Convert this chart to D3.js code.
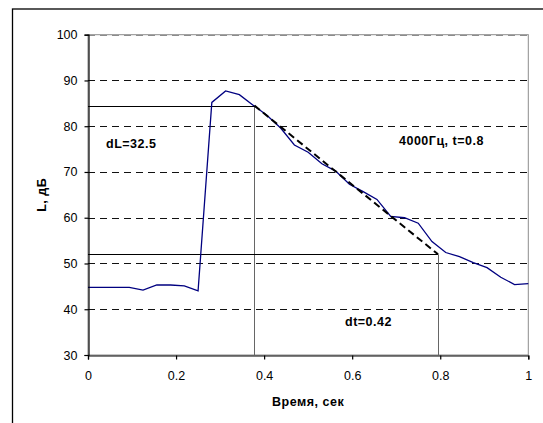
<!DOCTYPE html>
<html>
<head>
<meta charset="utf-8">
<script src="https://cdn.jsdelivr.net/npm/d3@7"></script>
<style>
  body { margin: 0; background: #fff; }
  text { font-family: "Liberation Sans", Arial, sans-serif; }
</style>
</head>
<body>
<svg id="plotarea"></svg>
<script>
// time, sec (step 1/32) and level, dB
var times = d3.range(0, 33).map(function (k) { return k / 32; });
var levels = [44.8, 44.8, 44.8, 44.8, 44.2, 45.3, 45.3, 45.1, 44.0, 85.2,
    87.7, 86.9, 84.6, 82.4, 79.6, 75.9, 74.3, 71.8, 70.2, 67.3,
    65.7, 64.0, 60.3, 60.0, 58.8, 54.8, 52.4, 51.5, 50.2, 49.1,
    47.0, 45.4, 45.6];

// decay fit: start and end points
var fitT = [0.378, 0.795];
var fitL = [84.5, 52.0];

var xTicks = [0, 0.2, 0.4, 0.6, 0.8, 1];
var yTicks = [30, 40, 50, 60, 70, 80, 90, 100];

var width = 543, height = 423;
var margin = {top: 34.7, right: 14.7, bottom: 68, left: 88};

var svg = d3.select("#plotarea")
    .attr("width", width)
    .attr("height", height);

// outer chart frame (cut off at right and bottom)
svg.append("rect")
    .attr("x", 12.5).attr("y", 9)
    .attr("width", 560).attr("height", 440)
    .attr("fill", "none")
    .attr("stroke", "black")
    .attr("stroke-width", 1.3);

var x = d3.scaleLinear().domain([0, 1]).range([margin.left, width - margin.right]);
var y = d3.scaleLinear().domain([30, 100]).range([height - margin.bottom, margin.top]);

// plot border
svg.append("rect")
    .attr("x", x(0)).attr("y", y(100))
    .attr("width", x(1) - x(0)).attr("height", y(30) - y(100))
    .attr("fill", "none")
    .attr("stroke", "#8c8c8c")
    .attr("stroke-width", 1);

// dashed gridlines
svg.append("g")
    .selectAll("line")
    .data(yTicks.slice(1))
    .enter()
    .append("line")
    .attr("x1", x(0)).attr("x2", x(1))
    .attr("y1", function (d) { return Math.round(y(d)) + 0.5; })
    .attr("y2", function (d) { return Math.round(y(d)) + 0.5; })
    .attr("stroke", function (d) { return d == 100 ? "#8c8c8c" : "#111"; })
    .attr("stroke-width", 1)
    .attr("stroke-dasharray", "7,5");

// reference lines from the axes to the fit ends
fitT.forEach(function (t, i) {
    svg.append("line")
        .attr("x1", x(0)).attr("x2", x(t))
        .attr("y1", Math.round(y(fitL[i])) + 0.5)
        .attr("y2", Math.round(y(fitL[i])) + 0.5)
        .attr("stroke", "black")
        .attr("stroke-width", 1);
    svg.append("line")
        .attr("x1", Math.round(x(t)) + 0.5).attr("x2", Math.round(x(t)) + 0.5)
        .attr("y1", y(fitL[i])).attr("y2", y(30))
        .attr("stroke", "#666")
        .attr("stroke-width", 1);
});

// measured curve
var line = d3.line()
    .x(function (d) { return x(d[0]); })
    .y(function (d) { return y(d[1]); });

svg.append("path")
    .datum(d3.zip(times, levels))
    .attr("d", line)
    .attr("fill", "none")
    .attr("stroke", "#000080")
    .attr("stroke-width", 1.3);

// fitted decay line
svg.append("path")
    .datum(d3.zip(fitT, fitL))
    .attr("d", line)
    .attr("fill", "none")
    .attr("stroke", "black")
    .attr("stroke-width", 2)
    .attr("stroke-dasharray", "7,4");

// axes
var yAxis = svg.append("g")
    .attr("transform", "translate(" + (x(0) + 0.5) + ",0)")
    .call(d3.axisLeft(y).tickValues(yTicks).tickSize(4).tickPadding(7));

var xAxis = svg.append("g")
    .attr("transform", "translate(0," + (Math.round(y(30)) + 0.5) + ")")
    .call(d3.axisBottom(x).tickValues(xTicks).tickSize(4).tickPadding(12)
        .tickFormat(function (d) { return String(d); }));

[xAxis, yAxis].forEach(function (g) {
    g.selectAll("path, line").attr("stroke", "black").attr("stroke-width", 1.2);
    g.selectAll("text")
        .style("font-family", "'Liberation Sans', Arial, sans-serif")
        .style("font-size", "12.5px")
        .attr("fill", "black");
});

// axis titles
svg.append("text")
    .attr("x", (x(0) + x(1)) / 2)
    .attr("y", 405.5)
    .attr("text-anchor", "middle")
    .style("font-size", "12.5px")
    .style("font-weight", "bold")
    .style("letter-spacing", "0.5px")
    .text("Время, сек");

svg.append("text")
    .attr("transform", "translate(45.5," + ((y(30) + y(100)) / 2) + ") rotate(-90)")
    .attr("text-anchor", "middle")
    .style("font-size", "12.5px")
    .style("font-weight", "bold")
    .style("letter-spacing", "0.5px")
    .text("L, дБ");

// annotations
var notes = [
    {text: "dL=32.5", x: 106, y: 147.5},
    {text: "4000Гц, t=0.8", x: 399, y: 145},
    {text: "dt=0.42", x: 345, y: 325.5}
];

svg.append("g")
    .selectAll("text")
    .data(notes)
    .enter()
    .append("text")
    .attr("x", function (d) { return d.x; })
    .attr("y", function (d) { return d.y; })
    .style("font-size", "12.5px")
    .style("font-weight", "bold")
    .style("letter-spacing", "0.5px")
    .text(function (d) { return d.text; });
</script>
</body>
</html>
